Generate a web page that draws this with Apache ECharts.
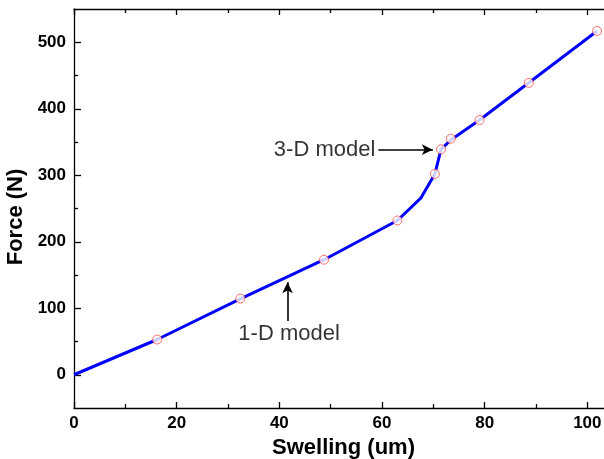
<!DOCTYPE html>
<html>
<head>
<meta charset="utf-8">
<script src="https://cdn.jsdelivr.net/npm/echarts@6/dist/echarts.min.js"></script>
<style>
html,body{margin:0;padding:0;background:#fff;}
#c{width:604px;height:459px;}
</style>
</head>
<body>
<div id="c"></div>
<script>
// Model curve (blue line)
const lineX = [0, 16.2, 32.4, 48.7, 63.0, 67.6, 70.3, 71.5, 73.4, 79.0, 88.6, 101.9];
const lineY = [0, 53, 114, 173, 232, 266, 302, 339, 353, 383, 439, 517];
// Data points (open red circles)
const markerX = [16.2, 32.4, 48.7, 63.0, 70.3, 71.5, 73.4, 79.0, 88.6, 101.9];
const markerY = [53, 114.6, 173, 232, 302, 339, 355, 383, 439, 517];
// Tick values
const yMajorTicks = [0, 100, 200, 300, 400, 500];
const yMinorTicks = [50, 150, 250, 350, 450];
// Annotations
const annoText = ['3-D model', '1-D model'];
const annoPos = [[58.8, 338], [41.9, 62]];
const arrows = [
  [[59.3, 338.5], [69.9, 338.5]],
  [[41.6, 81], [41.6, 139]]
];

const font = 'Liberation Sans, Arial, sans-serif';
const chart = echarts.init(document.getElementById('c'), null, {renderer: 'canvas'});

const xCommon = {
  type: 'value', min: 0, max: 105, interval: 20,
  axisLine: {show: true, onZero: false, lineStyle: {color: '#000', width: 1.3}},
  axisTick: {show: true, inside: true, length: 6, lineStyle: {color: '#000', width: 1.3}},
  minorTick: {show: true, splitNumber: 2, length: 4, lineStyle: {color: '#000', width: 1.3}},
  splitLine: {show: false}, minorSplitLine: {show: false}
};

chart.setOption({
  animation: false,
  backgroundColor: '#fff',
  grid: {left: 74, top: 9, width: 539, height: 399, containLabel: false, outerBoundsMode: 'none'},
  xAxis: [
    Object.assign({}, xCommon, {
      position: 'bottom',
      name: 'Swelling (um)', nameLocation: 'middle', nameGap: 24,
      nameTextStyle: {fontFamily: font, fontSize: 22, fontWeight: 'bold', color: '#000'},
      axisLabel: {show: true, margin: 7, fontFamily: font, fontSize: 17, fontWeight: 'bold', color: '#000',
        formatter: v => (v % 20 === 0 && v <= 100) ? String(v) : ''}
    }),
    Object.assign({}, xCommon, {position: 'top', axisLabel: {show: false}})
  ],
  yAxis: [
    {
      type: 'value', min: -50, max: 550, position: 'left',
      name: 'Force (N)', nameLocation: 'middle', nameGap: 46, nameRotate: 90,
      nameTextStyle: {fontFamily: font, fontSize: 22, fontWeight: 'bold', color: '#000', padding: [0, 17, 0, 0]},
      axisLine: {show: true, onZero: false, lineStyle: {color: '#000', width: 1.3}},
      axisTick: {show: true, inside: true, length: 7, customValues: yMajorTicks, lineStyle: {color: '#000', width: 1.3}},
      axisLabel: {show: true, margin: 8, customValues: yMajorTicks, fontFamily: font, fontSize: 17, fontWeight: 'bold', color: '#000'},
      splitLine: {show: false}
    },
    {
      type: 'value', min: -50, max: 550, position: 'left',
      axisLine: {show: false, onZero: false},
      axisTick: {show: true, inside: true, length: 4, customValues: yMinorTicks, lineStyle: {color: '#000', width: 1.3}},
      axisLabel: {show: false},
      splitLine: {show: false}
    }
  ],
  series: [
    {
      type: 'line', name: 'model',
      data: lineX.map((x, i) => [x, lineY[i]]),
      showSymbol: false, symbol: 'none',
      lineStyle: {color: '#0000ff', width: 3},
      z: 2,
      markLine: {
        silent: true, symbol: ['none', 'arrow'], symbolSize: [8, 11],
        label: {show: false},
        lineStyle: {color: '#000', width: 1.6, type: 'solid'},
        data: arrows.map(a => [{coord: a[0]}, {coord: a[1]}])
      }
    },
    {
      type: 'scatter', name: 'data',
      data: markerX.map((x, i) => [x, markerY[i]]),
      symbol: 'circle', symbolSize: 9,
      itemStyle: {color: '#fff', borderColor: '#ff4a4a', borderWidth: 1},
      z: 3
    },
    {
      type: 'scatter', name: 'anno',
      data: annoPos.map((p, i) => ({value: [p[0], p[1]], label: {position: i === 0 ? 'left' : 'inside', distance: 0}})),
      symbolSize: 1, itemStyle: {color: 'rgba(0,0,0,0)'},
      label: {show: true, formatter: p => annoText[p.dataIndex], fontFamily: font, fontSize: 22, color: '#000'},
      z: 4
    }
  ]
});
</script>
</body>
</html>
